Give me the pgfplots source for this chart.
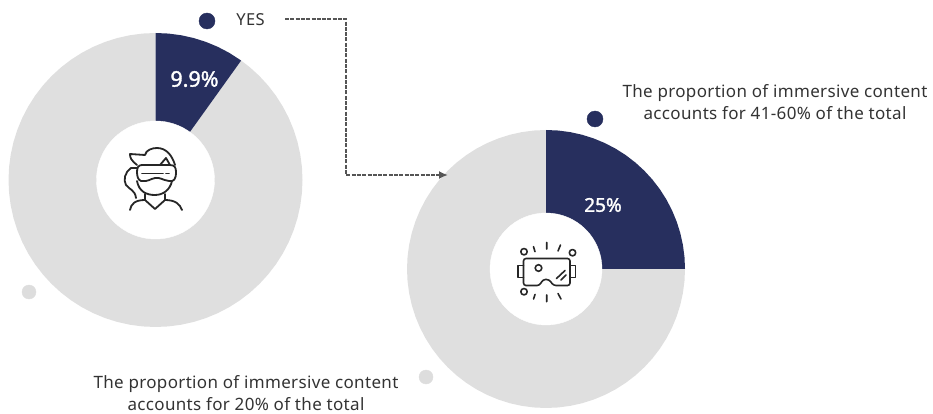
\documentclass[border=0pt]{standalone}
\usepackage{pgfplots}
\pgfplotsset{compat=1.18}
\usepackage{fontspec}
\setmainfont{Noto Sans}[LetterSpace=2]
\newfontfamily\valuefont[FakeBold=1.6]{Noto Sans}
\usetikzlibrary{arrows.meta}
\definecolor{navy}{HTML}{272F5E}
\definecolor{ringgrey}{HTML}{DFDFDF}
\definecolor{dotgrey}{HTML}{DDDDDD}
\definecolor{arrowgrey}{HTML}{555555}
\definecolor{ink}{HTML}{333333}
\pgfplotsset{
  canvas/.style={
    at={(0,0)}, anchor=south west, scale only axis,
    width=933pt, height=414pt, hide axis, clip=false,
  },
}
\tikzset{
  iconA/.style={black!85, line width=1.8pt, line cap=round, line join=round},
  iconB/.style={black!85, line width=1.6pt, line cap=round, line join=round},
}
\begin{document}
\begin{tikzpicture}
\path[use as bounding box] (0,0) rectangle (933pt,414pt);

% Left donut: 9.9% / 90.1%, angles in degrees, radius in canvas units
\begin{axis}[canvas, xmin=-155.5, xmax=777.5, ymin=-234, ymax=180]
\addplot[fill=ringgrey, draw=none, data cs=polar] coordinates {
 (0,0) (54.36,147) (50,147) (45,147) (40,147) (35,147) (30,147) (25,147) (20,147) (15,147) (10,147) (5,147)
 (0,147) (-5,147) (-10,147) (-15,147) (-20,147) (-25,147) (-30,147) (-35,147) (-40,147) (-45,147) (-50,147) (-55,147)
 (-60,147) (-65,147) (-70,147) (-75,147) (-80,147) (-85,147) (-90,147) (-95,147) (-100,147) (-105,147) (-110,147) (-115,147)
 (-120,147) (-125,147) (-130,147) (-135,147) (-140,147) (-145,147) (-150,147) (-155,147) (-160,147) (-165,147) (-170,147) (-175,147)
 (-180,147) (-185,147) (-190,147) (-195,147) (-200,147) (-205,147) (-210,147) (-215,147) (-220,147) (-225,147) (-230,147) (-235,147)
 (-240,147) (-245,147) (-250,147) (-255,147) (-260,147) (-265,147) (-270,147) (0,0)
} \closedcycle;
\addplot[fill=navy, draw=none, data cs=polar] coordinates {
 (0,0) (90,147) (85,147) (80,147) (75,147) (70,147) (65,147) (60,147) (54.36,147) (0,0)
} \closedcycle;
% donut hole
\addplot[only marks, mark=*, mark size=59pt, color=white] coordinates {(0,0)};
\end{axis}

% Right donut: 25% / 75%
\begin{axis}[canvas, xmin=-546, xmax=387, ymin=-145, ymax=269]
\addplot[fill=ringgrey, draw=none, data cs=polar] coordinates {
 (0,0) (0,139) (-5,139) (-10,139) (-15,139) (-20,139) (-25,139) (-30,139) (-35,139) (-40,139) (-45,139) (-50,139) (-55,139)
 (-60,139) (-65,139) (-70,139) (-75,139) (-80,139) (-85,139) (-90,139) (-95,139) (-100,139) (-105,139) (-110,139) (-115,139)
 (-120,139) (-125,139) (-130,139) (-135,139) (-140,139) (-145,139) (-150,139) (-155,139) (-160,139) (-165,139) (-170,139) (-175,139)
 (-180,139) (-185,139) (-190,139) (-195,139) (-200,139) (-205,139) (-210,139) (-215,139) (-220,139) (-225,139) (-230,139) (-235,139)
 (-240,139) (-245,139) (-250,139) (-255,139) (-260,139) (-265,139) (-270,139) (0,0)
} \closedcycle;
\addplot[fill=navy, draw=none, data cs=polar] coordinates {
 (0,0) (90,139) (85,139) (80,139) (75,139) (70,139) (65,139) (60,139) (55,139) (50,139) (45,139) (40,139) (35,139)
 (30,139) (25,139) (20,139) (15,139) (10,139) (5,139) (0,139) (0,0)
} \closedcycle;
% donut hole
\addplot[only marks, mark=*, mark size=56pt, color=white] coordinates {(0,0)};
\end{axis}

% Canvas in image-like units: y grows downwards
\begin{axis}[canvas, xmin=0, xmax=933, ymin=0, ymax=414, y dir=reverse]
% legend dots
\addplot[only marks, mark=*, mark size=8pt, color=navy] coordinates {(207,21) (595,119)};
\addplot[only marks, mark=*, mark size=7pt, color=dotgrey] coordinates {(29,292) (426,377)};

% connector
\draw[arrowgrey, line width=1.8pt, dash pattern=on 4pt off 1.3pt, -{Latex[length=9pt,width=8pt]}]
  (285,19) -- (346,19) -- (346,175) -- (448,175);

% percentage labels
\node[white, font=\fontsize{21.5}{25}\valuefont] at (194.5,79) {9.9\%};
\node[white, font=\fontsize{19}{23}\valuefont] at (603,205) {25\%};

% captions
\node[ink, font=\fontsize{16.5}{20}\selectfont] at (250.5,20) {YES};
\node[ink, font=\fontsize{17}{22.5}\selectfont, align=center] at (775,102)
  {The proportion of immersive content\\accounts for 41-60\% of the total};
\node[ink, font=\fontsize{17}{22}\selectfont, align=center] at (246,393)
  {The proportion of immersive content\\accounts for 20\% of the total};

% headset wearer icon
\draw[iconA] (142,165) -- (170,165) .. controls (175,165) and (176,168) .. (176,172)
  .. controls (176,179) and (174,182) .. (169,181) .. controls (162,180) and (160,177) .. (155,178)
  .. controls (150,179) and (148,182) .. (141,181) .. controls (138,180) and (137,176) .. (137,172)
  .. controls (137,168) and (138,165) .. (142,165);
\draw[iconA] (142,173.5) -- (163,173.5) (166,173.5) -- (169,173.5);
\draw[iconA] (137,165) .. controls (131,160) and (130,158) .. (130,154) -- (145,155)
  .. controls (146,150) and (152,148) .. (157,148) .. controls (166,148) and (172,155) .. (175,165);
\draw[iconA] (160,165) -- (166,158) -- (170,165);
\draw[iconA] (137,181) .. controls (139,192) and (147,195) .. (155,195) .. controls (163,195) and (170,190) .. (172,181);
\draw[iconA] (137,168) -- (131,168) .. controls (125,172) and (123,180) .. (126,185) .. controls (130,190) and (135,190) .. (136,198);
\draw[iconA] (145,194) -- (145,200) -- (155,209) -- (165,200) -- (165,194);
\draw[iconA] (130,210) .. controls (131,204) and (135,200) .. (145,200);
\draw[iconA] (165,200) .. controls (175,200) and (180,204) .. (182,210);

% goggles icon
\draw[iconB, rounded corners=2.5pt] (523.5,258.5) -- (570,258.5) -- (570,285.5) -- (553.5,285.5) -- (549,279.5) -- (543,279.5) -- (539.5,285.5) -- (523.5,285.5) -- cycle;
\draw[iconB] (523.5,265.5) -- (518,265.5) -- (518,277.5) -- (523.5,277.5);
\draw[iconB] (570,265.5) -- (575.5,265.5) -- (575.5,277.5) -- (570,277.5);
\draw[iconB] (538.5,268) circle[radius=3.3pt];
\draw[iconB] (556.5,278.5) -- (565,270.5) (561,280) -- (566,275);
\draw[iconB] (524,251.7) circle[radius=3.2pt];
\draw[iconB] (572.5,252.7) circle[radius=3.2pt];
\draw[iconB] (524,291.7) circle[radius=3.2pt];
\draw[iconB] (533.5,246.7) -- (535,251.7) (546.7,242.5) -- (546.7,249) (560.5,245) -- (558,251);
\draw[iconB] (533.5,299) -- (535,294.5) (546.7,295) -- (546.7,301.7) (558,293.5) -- (561,299);
\end{axis}
\end{tikzpicture}
\end{document}
